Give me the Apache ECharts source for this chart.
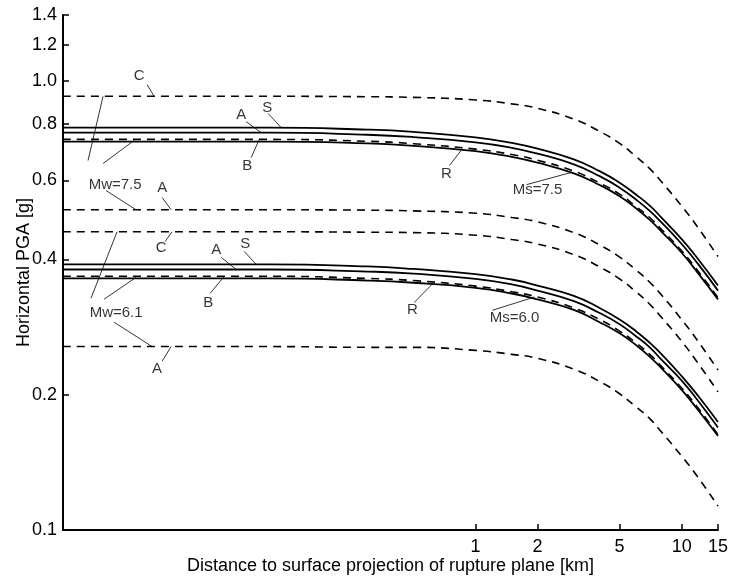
<!DOCTYPE html>
<html>
<head>
<meta charset="utf-8">
<script src="https://cdn.jsdelivr.net/npm/echarts@6/dist/echarts.min.js"></script>
<style>
html, body { margin: 0; padding: 0; background: #fff; }
#chart { width: 732px; height: 585px; }
</style>
</head>
<body>
<div id="chart"></div>
<script>
// distance to surface projection of rupture plane [km]
const distances = [0.01, 0.1, 0.3, 0.5, 1, 1.5, 2, 3, 4, 5, 6, 7, 8, 10, 12, 15];

// horizontal PGA [g]
const upperS = [0.786, 0.786, 0.778, 0.769, 0.748, 0.727, 0.706, 0.668, 0.629, 0.593, 0.558, 0.527, 0.495, 0.444, 0.401, 0.350];
const upperA = [0.766, 0.766, 0.758, 0.749, 0.729, 0.709, 0.688, 0.651, 0.613, 0.578, 0.544, 0.513, 0.483, 0.433, 0.391, 0.341];
const upperB = [0.740, 0.740, 0.733, 0.724, 0.704, 0.685, 0.665, 0.629, 0.592, 0.559, 0.525, 0.496, 0.466, 0.418, 0.377, 0.329];
const upperR = [0.732, 0.732, 0.725, 0.716, 0.697, 0.677, 0.657, 0.622, 0.586, 0.553, 0.520, 0.490, 0.461, 0.414, 0.373, 0.326];
const upperC = [0.923, 0.923, 0.921, 0.918, 0.906, 0.888, 0.868, 0.821, 0.771, 0.725, 0.678, 0.637, 0.595, 0.526, 0.471, 0.406];
const midA   = [0.516, 0.516, 0.515, 0.513, 0.507, 0.496, 0.485, 0.459, 0.431, 0.405, 0.379, 0.356, 0.333, 0.294, 0.263, 0.227];
const midC   = [0.461, 0.461, 0.460, 0.459, 0.453, 0.443, 0.433, 0.410, 0.385, 0.362, 0.339, 0.318, 0.297, 0.263, 0.235, 0.203];
const lowerS = [0.390, 0.390, 0.386, 0.381, 0.371, 0.361, 0.350, 0.332, 0.312, 0.294, 0.277, 0.261, 0.246, 0.220, 0.199, 0.174];
const lowerA = [0.380, 0.380, 0.376, 0.372, 0.362, 0.352, 0.341, 0.323, 0.304, 0.287, 0.270, 0.255, 0.239, 0.215, 0.194, 0.169];
const lowerB = [0.367, 0.367, 0.363, 0.359, 0.349, 0.339, 0.330, 0.312, 0.294, 0.277, 0.261, 0.246, 0.231, 0.207, 0.187, 0.163];
const lowerR = [0.363, 0.363, 0.359, 0.355, 0.346, 0.336, 0.326, 0.309, 0.290, 0.274, 0.258, 0.243, 0.229, 0.205, 0.185, 0.162];
const lowerAd = [0.256, 0.256, 0.255, 0.255, 0.251, 0.246, 0.241, 0.228, 0.214, 0.201, 0.188, 0.177, 0.165, 0.146, 0.131, 0.113];

const xTicks = [1, 2, 5, 10, 15];
const yTicks = [0.1, 0.2, 0.4, 0.6, 0.8, 1.0, 1.2, 1.4];

// labels: [text, distance, pga]
const labelTexts = [
    ['C', 0.0234, 1.026],
    ['Mw=7.5', 0.0179, 0.587],
    ['A', 0.0303, 0.578],
    ['C', 0.0299, 0.4255],
    ['A', 0.0731, 0.840],
    ['S', 0.0978, 0.871],
    ['B', 0.0782, 0.647],
    ['R', 0.7233, 0.621],
    ['Ms=7.5', 2.0, 0.5725],
    ['A', 0.0553, 0.421],
    ['S', 0.0765, 0.4344],
    ['Mw=6.1', 0.0181, 0.305],
    ['B', 0.0506, 0.321],
    ['R', 0.4943, 0.3083],
    ['Ms=6.0', 1.546, 0.296],
    ['A', 0.0286, 0.228]
];

// leader lines: [[dist, pga], [dist, pga]]
const leaders = [
    [[0.02558, 0.9797], [0.02765, 0.923]],
    [[0.01322, 0.664], [0.01564, 0.923]],
    [[0.01564, 0.654], [0.02212, 0.736]],
    [[0.01617, 0.5694], [0.02262, 0.516]],
    [[0.03025, 0.5495], [0.03344, 0.516]],
    [[0.03127, 0.4387], [0.03381, 0.461]],
    [[0.07733, 0.8106], [0.0915, 0.766]],
    [[0.0989, 0.8446], [0.1144, 0.786]],
    [[0.0818, 0.6744], [0.0894, 0.740]],
    [[0.748, 0.6473], [0.855, 0.701]],
    [[1.769, 0.587], [2.924, 0.625]],
    [[0.05848, 0.4043], [0.06916, 0.380]],
    [[0.07561, 0.4169], [0.08647, 0.390]],
    [[0.01367, 0.3279], [0.01829, 0.461]],
    [[0.01581, 0.3262], [0.02262, 0.365]],
    [[0.01769, 0.290], [0.02704, 0.256]],
    [[0.05171, 0.3363], [0.0605, 0.367]],
    [[0.5058, 0.3211], [0.6184, 0.353]],
    [[1.209, 0.3083], [1.934, 0.330]],
    [[0.03025, 0.2374], [0.03344, 0.256]]
];

const curves = [
    { name: 'C 7.5', values: upperC, dashed: true },
    { name: 'S 7.5', values: upperS, dashed: false },
    { name: 'A 7.5', values: upperA, dashed: false },
    { name: 'B 7.5', values: upperB, dashed: true },
    { name: 'R 7.5', values: upperR, dashed: false },
    { name: 'A 7.5 d', values: midA, dashed: true },
    { name: 'C 6.1', values: midC, dashed: true },
    { name: 'S 6.0', values: lowerS, dashed: false },
    { name: 'A 6.0', values: lowerA, dashed: false },
    { name: 'B 6.1', values: lowerB, dashed: true },
    { name: 'R 6.0', values: lowerR, dashed: false },
    { name: 'A 6.1 d', values: lowerAd, dashed: true }
];

const lg = Math.log10;
const font = 'Liberation Sans, Arial, Helvetica, sans-serif';

var series = curves.map(c => ({
    name: c.name,
    type: 'line',
    showSymbol: false,
    smooth: 0.5,
    data: distances.map((d, i) => [lg(d), lg(c.values[i])]),
    lineStyle: {
        color: '#000',
        width: c.dashed ? 1.6 : 1.8,
        type: c.dashed ? [8, 6] : 'solid'
    },
    z: c.dashed ? 3 : 2
}));

series.push({
    type: 'lines',
    coordinateSystem: 'cartesian2d',
    silent: true,
    lineStyle: { color: '#000', width: 0.8, opacity: 1 },
    data: leaders.map(l => ({ coords: [[lg(l[0][0]), lg(l[0][1])], [lg(l[1][0]), lg(l[1][1])]] })),
    z: 4
});

series.push({
    type: 'scatter',
    symbolSize: 0,
    silent: true,
    data: labelTexts.map(t => ({ name: t[0], value: [lg(t[1]), lg(t[2])] })),
    label: {
        show: true,
        position: 'inside',
        formatter: '{b}',
        color: '#000',
        fontSize: 15,
        fontFamily: font
    },
    z: 5
});

var option = {
    animation: false,
    backgroundColor: '#fff',
    grid: { left: 63, right: 14, top: 15, bottom: 55, outerBoundsMode: 'none' },
    xAxis: {
        type: 'value',
        min: lg(0.01),
        max: lg(15),
        name: 'Distance to surface projection of rupture plane [km]',
        nameLocation: 'middle',
        nameGap: 27,
        nameMoveOverlap: false,
        nameTextStyle: { color: '#000', fontSize: 18, fontFamily: font },
        axisLine: { onZero: false, lineStyle: { color: '#000', width: 2 } },
        axisTick: {
            inside: true, length: 6,
            customValues: xTicks.map(lg),
            lineStyle: { color: '#000', width: 1.5 }
        },
        axisLabel: {
            customValues: xTicks.map(lg),
            formatter: v => String(Math.round(Math.pow(10, v))),
            color: '#000', fontSize: 18, fontFamily: font, margin: 8
        },
        splitLine: { show: false }
    },
    yAxis: {
        type: 'value',
        min: lg(0.1),
        max: lg(1.4),
        name: 'Horizontal PGA [g]',
        nameLocation: 'middle',
        nameGap: 30,
        nameMoveOverlap: false,
        nameTextStyle: { color: '#000', fontSize: 18, fontFamily: font },
        axisLine: { show: true, onZero: false, lineStyle: { color: '#000', width: 2 } },
        axisTick: {
            show: true, inside: true, length: 6,
            customValues: yTicks.map(lg),
            lineStyle: { color: '#000', width: 1.5 }
        },
        axisLabel: {
            customValues: yTicks.map(lg),
            formatter: v => Math.pow(10, v).toFixed(1),
            color: '#000', fontSize: 18, fontFamily: font, margin: 6
        },
        splitLine: { show: false }
    },
    series: series
};

var myChart = echarts.init(document.getElementById('chart'));
myChart.setOption(option);
</script>
</body>
</html>
